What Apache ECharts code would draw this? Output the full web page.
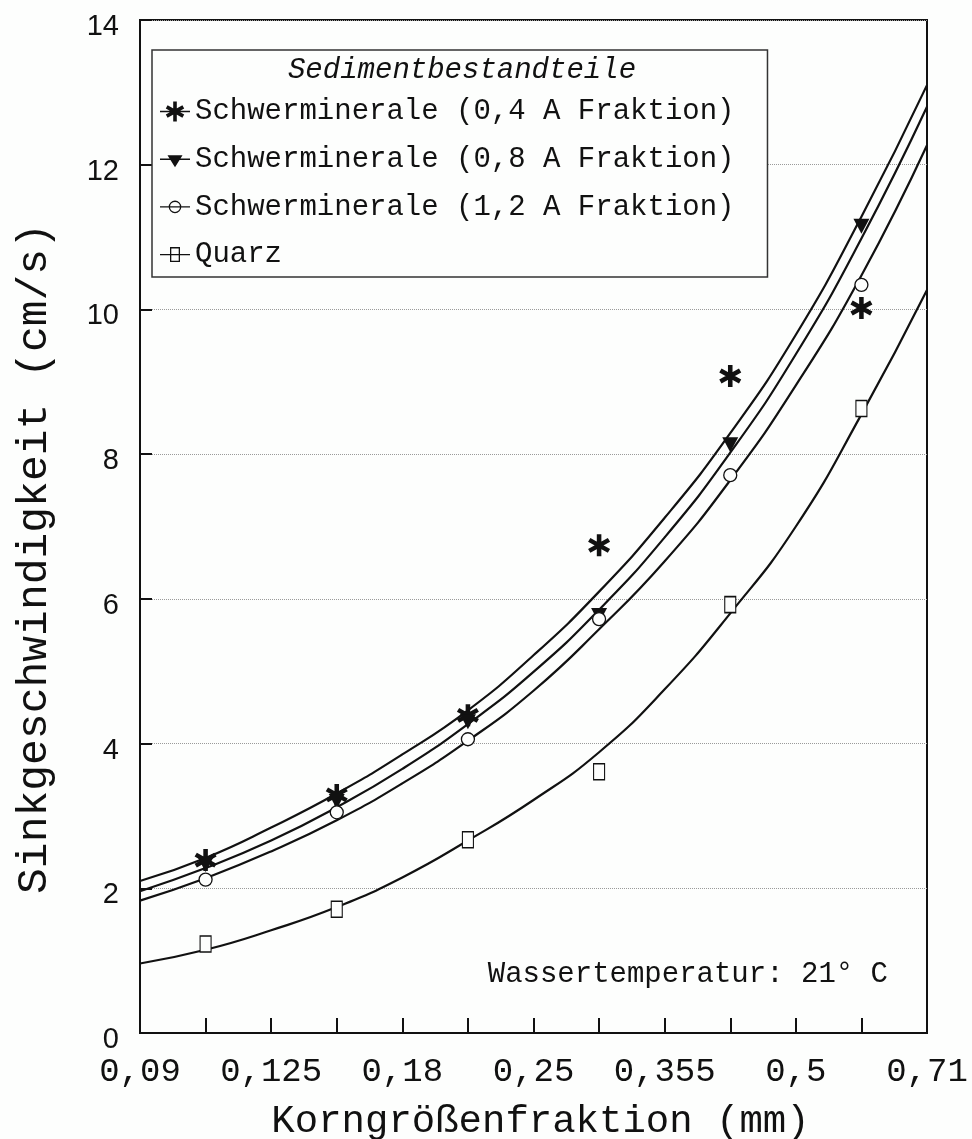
<!DOCTYPE html>
<html>
<head>
<meta charset="utf-8">
<script src="https://cdn.jsdelivr.net/npm/echarts@6/dist/echarts.min.js"></script>
<style>
  html, body { margin: 0; padding: 0; background: #fdfefd; }
  #sinkChart { width: 972px; height: 1139px; }
</style>
</head>
<body>
<div id="sinkChart"></div>
<script>
// Kornfraktionen (mm), Achsenposition 0..6, Messpunkte liegen auf den halben Schritten
const xLabels = ["0,09", "0,125", "0,18", "0,25", "0,355", "0,5", "0,71"];
const pointX = [0.5, 1.5, 2.5, 3.5, 4.5, 5.5];
const curveX = [0, 0.5, 1, 1.5, 2, 2.5, 3, 3.5, 4, 4.5, 5, 5.5, 6];
const yTicks = [0, 2, 4, 6, 8, 10, 12, 14];

const seriesNames = [
  "Schwerminerale (0,4 A Fraktion)",
  "Schwerminerale (0,8 A Fraktion)",
  "Schwerminerale (1,2 A Fraktion)",
  "Quarz",
];

// Messwerte (cm/s)
const heavy04 = [2.39, 3.29, 4.39, 6.74, 9.08, 10.02];
const heavy08 = [2.33, 3.2, 4.3, 5.77, 8.13, 11.15];
const heavy12 = [2.12, 3.05, 4.06, 5.72, 7.71, 10.34];
const quarz = [1.23, 1.71, 2.67, 3.61, 5.92, 8.63];

const fit04 = [2.1, 2.42, 2.84, 3.31, 3.85, 4.46, 5.22, 6.1, 7.12, 8.29, 9.65, 11.28, 13.1];
const fit08 = [1.96, 2.28, 2.66, 3.12, 3.65, 4.27, 4.99, 5.85, 6.85, 8.02, 9.38, 10.98, 12.8];
const fit12 = [1.83, 2.14, 2.51, 2.94, 3.45, 4.04, 4.73, 5.58, 6.52, 7.64, 8.95, 10.47, 12.27];
const fitQuarz = [0.96, 1.15, 1.42, 1.74, 2.15, 2.66, 3.22, 3.88, 4.75, 5.8, 7.0, 8.55, 10.27];

const ink = "#111";
const paper = "#fdfefd";
const mono = "'Liberation Mono', 'DejaVu Sans Mono', monospace";

// Sternchen (*) als Pfad, kräftige Arme
const starPath =
  "path://M40,0L60,0L60,100L40,100Z" +
  "M1.7,33.66L11.7,16.34L98.3,66.34L88.3,83.66Z" +
  "M88.3,16.34L98.3,33.66L11.7,83.66L1.7,66.34Z";

// Legendensymbole: Linie mit Marker
const legendLine = "M0,9.3L30,9.3L30,10.7L0,10.7Z";
const legendBox = "M0,0M30,20";
const legendIcons = [
  "path://" + legendLine + "M13.2,0L16.8,0L16.8,20L13.2,20Z" +
    "M5.8,6.9L7.6,3.8L24.2,13.1L22.4,16.2Z" +
    "M22.4,3.8L24.2,6.9L7.6,16.2L5.8,13.1Z" + legendBox,
  "path://" + legendLine + "M7.5,6L22.5,6L15,18Z" + legendBox,
  "path://" + legendLine + "M21.3,10A6.3,6.3,0,1,1,8.7,10A6.3,6.3,0,1,1,21.3,10Z" +
    "M20,10A5,5,0,1,0,10,10A5,5,0,1,0,20,10Z" + legendBox,
  "path://" + legendLine + "M10,2.5L20,2.5L20,17.5L10,17.5Z" +
    "M11.3,3.8L11.3,16.2L18.7,16.2L18.7,3.8Z" + legendBox,
];

function pairs(xs, ys) {
  return xs.map((x, i) => [x, ys[i]]);
}

function curveSeries(name, xs, ys) {
  return {
    name: name,
    type: "line",
    data: pairs(xs, ys),
    smooth: true,
    showSymbol: false,
    silent: true,
    lineStyle: { color: ink, width: 2.2 },
    z: 2,
  };
}

function pointSeries(name, ys, symbol, size, style, rotate) {
  return {
    name: name,
    type: "scatter",
    data: pairs(pointX, ys),
    symbol: symbol,
    symbolSize: size,
    symbolRotate: rotate || 0,
    itemStyle: Object.assign({ opacity: 1 }, style),
    z: 4,
  };
}

const chart = echarts.init(document.getElementById("sinkChart"));

const option = {
  backgroundColor: paper,
  animation: false,
  title: [
    {
      text: "Sedimentbestandteile",
      left: 462,
      top: 56,
      padding: 0,
      textAlign: "center",
      textStyle: { fontFamily: mono, fontSize: 29, fontStyle: "italic", fontWeight: "normal", color: ink },
    },
    {
      text: "Wassertemperatur: 21° C",
      right: 84,
      top: 960,
      padding: 0,
      textStyle: { fontFamily: mono, fontSize: 29, fontWeight: "normal", color: ink },
    },
  ],
  legend: {
    orient: "vertical",
    left: 152,
    top: 50,
    padding: [47, 33, 8, 8],
    itemWidth: 30,
    itemHeight: 20,
    itemGap: 18.7,
    selectedMode: false,
    backgroundColor: paper,
    borderColor: "#333",
    borderWidth: 1.5,
    itemStyle: { color: ink, borderWidth: 0, opacity: 1 },
    textStyle: { fontFamily: mono, fontSize: 29, color: ink },
    data: seriesNames.map((n, i) => ({ name: n, icon: legendIcons[i] })),
    z: 6,
  },
  grid: {
    left: 140,
    right: 45,
    top: 20,
    bottom: 106,
    outerBoundsMode: "none", // feste Plotfläche, nicht an Beschriftungen anpassen
    show: true,
    borderColor: ink,
    borderWidth: 2,
    backgroundColor: "transparent",
  },
  xAxis: {
    type: "value",
    min: 0,
    max: xLabels.length - 1,
    interval: 0.5,
    name: "Korngrößenfraktion (mm)",
    nameLocation: "middle",
    nameGap: 69,
    nameTextStyle: { fontFamily: mono, fontSize: 39, color: ink, padding: [0, 0, 0, 14] },
    axisLine: { lineStyle: { color: ink, width: 2 } },
    axisTick: { inside: true, length: 15, lineStyle: { color: ink, width: 2 } },
    splitLine: { show: false },
    axisLabel: {
      margin: 22,
      fontFamily: mono,
      fontSize: 34,
      color: ink,
      showMinLabel: true,
      showMaxLabel: true,
      formatter: (v) => (Number.isInteger(v) ? xLabels[v] : ""),
    },
  },
  yAxis: {
    type: "value",
    min: yTicks[0],
    max: yTicks[yTicks.length - 1],
    interval: 2,
    name: "Sinkgeschwindigkeit (cm/s)",
    nameLocation: "middle",
    nameGap: 84,
    nameTextStyle: { fontFamily: mono, fontSize: 43, color: ink, padding: [0, 64, 0, 0] },
    axisLine: { lineStyle: { color: ink, width: 2 } },
    axisTick: { inside: true, length: 12, lineStyle: { color: ink, width: 2 } },
    splitLine: { show: true, lineStyle: { color: "#9a9a9a", width: 1, type: "dotted" } },
    axisLabel: {
      margin: 21,
      verticalAlign: "top",
      lineHeight: 14,
      fontFamily: "'Liberation Sans', Arial, sans-serif",
      fontSize: 29,
      color: ink,
    },
  },
  series: [
    curveSeries("fit04", curveX, fit04),
    curveSeries("fit08", curveX, fit08),
    curveSeries("fit12", curveX, fit12),
    curveSeries("fitQuarz", curveX, fitQuarz),
    pointSeries(seriesNames[0], heavy04, starPath, 22, { color: ink }),
    pointSeries(seriesNames[1], heavy08, "triangle", [16, 15], { color: ink }, 180),
    pointSeries(seriesNames[2], heavy12, "circle", 13, { color: paper, borderColor: ink, borderWidth: 1.3 }),
    pointSeries(seriesNames[3], quarz, "rect", [11, 16], { color: paper, borderColor: ink, borderWidth: 1.3 }),
  ],
};

chart.setOption(option);
</script>
</body>
</html>
